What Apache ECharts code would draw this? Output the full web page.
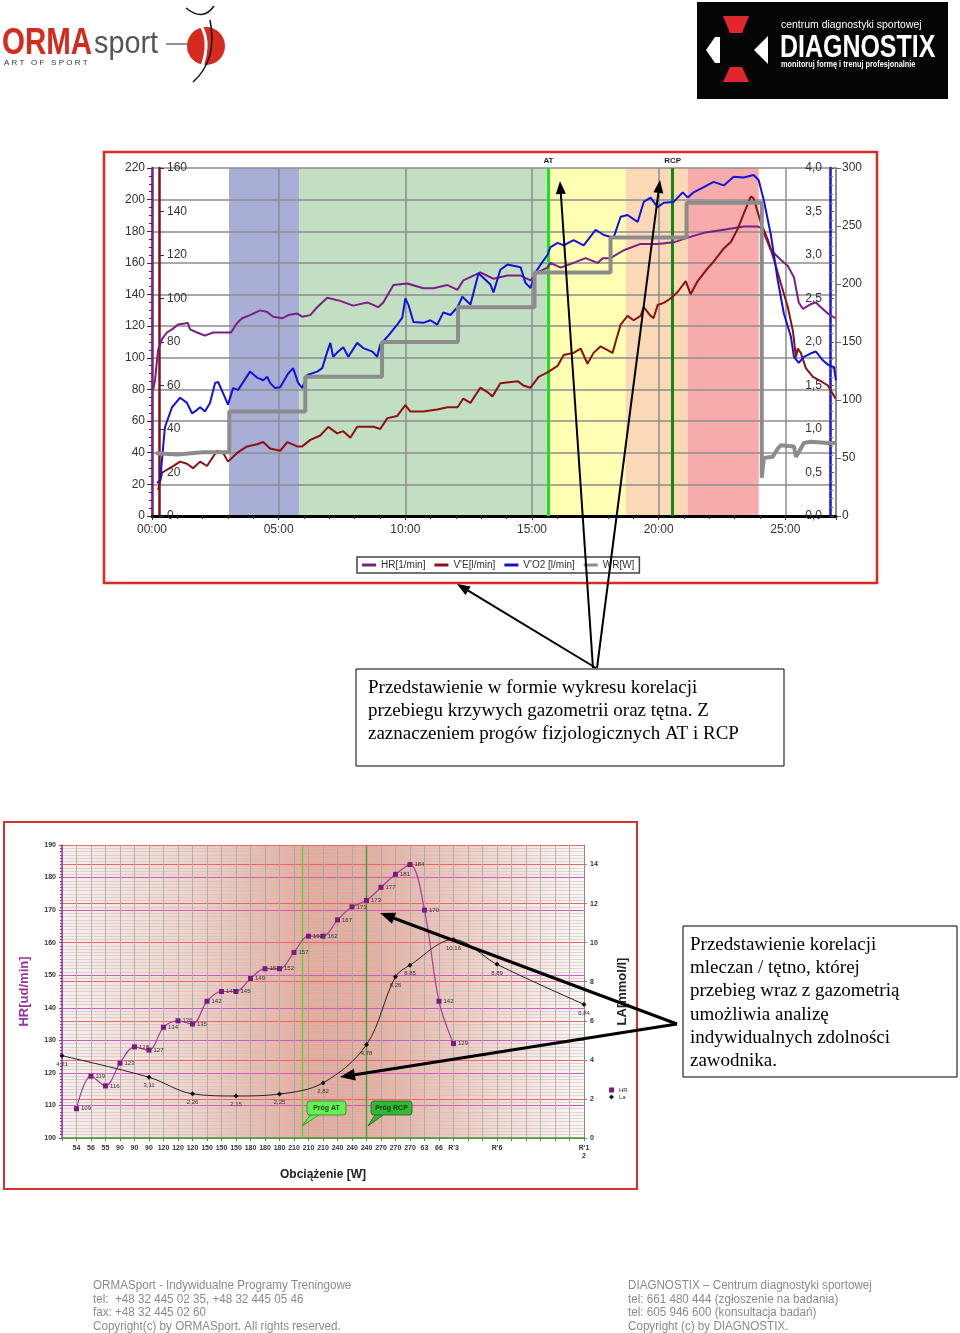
<!DOCTYPE html>
<html>
<head>
<meta charset="utf-8">
<script src="https://cdn.jsdelivr.net/npm/echarts@6/dist/echarts.min.js"></script>
<style>
html, body { margin: 0; padding: 0; background: #fff; }
#page { width: 960px; height: 1333px; }
</style>
</head>
<body>
<div id="page"></div>
<script>
// ---------- wykres 1: przebieg testu (czas w minutach) ----------
const hrTrace = [[0.05,80],[0.12,86],[0.24,105],[0.4,112],[0.59,116],[0.79,118],[1.03,121],[1.42,122],[1.5,118],[1.78,116],[2.09,114],[2.41,116],[2.96,116],[3.12,116],[3.36,122],[3.56,125],[3.87,127],[4.27,130],[4.55,129],[4.78,126],[5.14,125],[5.38,127],[5.73,128],[5.93,126],[6.25,127],[6.52,132],[6.92,138],[7.43,136],[7.94,133],[8.5,135],[8.93,132],[9.13,135],[9.53,146],[10.08,147],[10.71,144],[11.11,144],[11.66,146],[12.06,143],[12.29,149],[12.96,154],[13.48,150],[14.03,152],[14.55,152],[14.94,149],[15.22,154],[15.61,157],[15.73,160],[16.13,157],[16.64,160],[17.11,163],[17.59,160],[17.79,163],[18.1,163],[18.62,168],[19.29,172],[19.96,172],[20.59,173],[21.15,176],[21.78,179],[22.57,181],[23.36,183],[23.91,183],[24.07,182],[24.43,168],[24.82,162],[25.1,158],[25.34,151],[25.53,135],[25.69,131],[26.01,134],[26.21,135],[26.4,132],[26.68,128],[26.98,125]];
const veTrace = [[0.24,12],[0.4,20],[0.71,22],[1.11,25],[1.38,24],[1.62,22],[1.9,25],[2.17,23],[2.57,30],[2.81,29],[3.0,25],[3.36,29],[3.75,32],[4.15,33],[4.39,34],[4.66,31],[5.06,30],[5.34,34],[5.73,32],[5.93,32],[6.25,35],[6.64,37],[6.96,41],[7.31,38],[7.55,39],[7.83,36],[8.1,41],[8.74,41],[9.01,40],[9.29,45],[9.68,46],[10.0,51],[10.2,48],[10.71,48],[11.26,49],[11.66,50],[12.06,50],[12.29,54],[12.57,52],[12.96,59],[13.24,57],[13.44,55],[13.75,61],[14.43,62],[14.66,60],[14.94,59],[15.26,64],[15.61,66],[16.01,69],[16.25,74],[16.64,75],[16.92,77],[17.19,70],[17.43,75],[17.71,78],[18.18,75],[18.3,80],[18.5,88],[18.77,92],[19.01,90],[19.29,92],[19.41,96],[19.68,92],[19.8,91],[19.96,97],[20.2,98],[20.47,100],[20.75,103],[21.07,108],[21.26,102],[21.54,108],[21.94,114],[22.17,117],[22.57,123],[22.85,126],[23.12,132],[23.36,139],[23.64,147],[23.75,146],[24.03,135],[24.31,127],[24.55,118],[24.82,107],[25.1,96],[25.3,85],[25.42,73],[25.49,77],[25.61,75],[25.81,68],[26.09,64],[26.4,62],[26.68,60],[26.98,54]];
const vo2Trace = [[0.2,0.38],[0.32,0.41],[0.51,1.02],[0.79,1.25],[1.11,1.36],[1.38,1.3],[1.58,1.18],[1.78,1.22],[1.9,1.25],[2.09,1.2],[2.29,1.3],[2.49,1.53],[2.61,1.54],[2.81,1.41],[3.0,1.28],[3.2,1.47],[3.4,1.45],[3.87,1.66],[4.15,1.59],[4.39,1.56],[4.55,1.6],[4.66,1.53],[4.86,1.47],[5.06,1.48],[5.38,1.64],[5.57,1.7],[5.77,1.53],[5.93,1.47],[6.13,1.62],[6.52,1.66],[6.72,1.7],[6.92,1.89],[7.04,1.99],[7.15,1.83],[7.35,1.89],[7.55,1.94],[7.75,1.83],[8.1,1.99],[8.34,1.93],[8.7,1.89],[8.89,1.83],[9.01,1.97],[9.29,2.06],[9.68,2.2],[9.88,2.28],[10.0,2.5],[10.12,2.43],[10.32,2.23],[10.71,2.22],[10.99,2.25],[11.26,2.2],[11.5,2.34],[11.78,2.31],[12.06,2.4],[12.25,2.52],[12.57,2.43],[12.89,2.79],[13.36,2.66],[13.48,2.57],[13.75,2.83],[14.03,2.89],[14.55,2.86],[14.74,2.68],[14.94,2.62],[15.14,2.8],[15.34,2.89],[15.61,3.0],[15.73,3.09],[16.01,3.14],[16.25,3.11],[16.64,3.17],[17.04,3.11],[17.51,3.29],[17.83,3.23],[18.22,3.2],[18.5,3.44],[18.77,3.46],[19.17,3.38],[19.41,3.61],[19.68,3.66],[19.96,3.55],[20.2,3.6],[20.59,3.61],[20.95,3.72],[21.15,3.66],[21.38,3.72],[21.78,3.78],[22.17,3.84],[22.57,3.8],[22.96,3.9],[23.36,3.89],[23.75,3.92],[23.95,3.86],[24.15,3.63],[24.43,3.23],[24.7,2.71],[24.94,2.33],[25.22,2.06],[25.34,1.83],[25.53,1.76],[25.73,1.83],[26.01,1.87],[26.21,1.89],[26.48,1.79],[26.68,1.74],[26.92,1.71],[27.0,1.56]];
const wrTrace = [[0.15,54],[1.0,53],[2.0,55],[3.05,55],[3.05,90],[6.05,90],[6.05,120],[9.08,120],[9.08,150],[12.08,150],[12.08,180],[15.1,180],[15.1,210],[18.1,210],[18.1,240],[21.1,240],[21.1,270],[24.07,270],[24.07,33],[24.15,50],[24.5,51],[24.7,58],[24.82,61],[25.34,60],[25.42,51],[25.53,55],[25.73,63],[26.01,64],[26.68,63],[27.0,63]];
const zoneEdges = [3.04, 5.81, 15.65, 18.7, 21.15, 23.95];
const zoneColors = ['#a9aed6', '#c3dfc3', '#ffffb3', '#fcd9b6', '#f7abab'];
const atTime = 15.65;
const rcpTime = 20.55;
const timeLabels = ['00:00', '05:00', '10:00', '15:00', '20:00', '25:00'];

// ---------- wykres 2: HR / LA vs obciazenie ----------
const loadLabels = ['', '54', '56', '55', '90', '90', '90', '120', '120', '120', '150', '150', '150',
  '180', '180', '180', '210', '210', '210', '240', '240', '240', '270', '270', '270', '63', '66', "R'3",
  '', '', "R'6", '', '', '', '', '', "R'1\n2"];
const hrStage = [109, 119, 116, 123, 128, 127, 134, 136, 135, 142, 145, 145, 149, 152, 152, 157, 162, 162,
  167, 171, 173, 177, 181, 184, 170, 142, 129];
const laPos = [0, 6, 9, 12, 15, 18, 21, 23, 24, 27, 30, 36];
const laVals = [4.21, 3.11, 2.26, 2.15, 2.25, 2.82, 4.78, 8.26, 8.85, 10.16, 8.89, 6.84];
const atLoadPos = 16.55;
const rcpLoadPos = 21;

const FONT = "'Liberation Sans', Arial, sans-serif";
const SERIF = "'Liberation Serif', 'Times New Roman', serif";
const comma = (v, d) => v.toFixed(d).replace('.', ',');

function txt(x, y, s, font, fill, extra) {
  return Object.assign({ type: 'text', x: x, y: y, silent: true, z: 50,
    style: { text: s, font: font, fill: fill, align: 'left', verticalAlign: 'middle' } }, extra || {});
}
function arrow(x1, y1, x2, y2, w, hl, hw) {
  const dx = x2 - x1, dy = y2 - y1, L = Math.hypot(dx, dy), ux = dx / L, uy = dy / L;
  const bx = x2 - ux * hl, by = y2 - uy * hl;
  return [
    { type: 'line', z: 100, silent: true, shape: { x1: x1, y1: y1, x2: bx, y2: by }, style: { stroke: '#000', lineWidth: w } },
    { type: 'polygon', z: 100, silent: true, shape: { points: [[x2, y2], [bx - uy * hw, by + ux * hw], [bx + uy * hw, by - ux * hw]] }, style: { fill: '#000' } }
  ];
}

const zones = zoneColors.map((c, i) => [{ xAxis: zoneEdges[i], itemStyle: { color: c } }, { xAxis: zoneEdges[i + 1] }]);

const box1 = ['Przedstawienie w formie wykresu korelacji', 'przebiegu krzywych gazometrii oraz tętna. Z',
  'zaznaczeniem progów fizjologicznych AT i RCP'];
const box2 = ['Przedstawienie korelacji', 'mleczan / tętno, której', 'przebieg wraz z gazometrią',
  'umożliwia analizę', 'indywidualnych zdolności', 'zawodnika.'];
const footL = ['ORMASport - Indywidualne Programy Treningowe', 'tel:  +48 32 445 02 35, +48 32 445 05 46',
  'fax: +48 32 445 02 60', 'Copyright(c) by ORMASport. All rights reserved.'];
const footR = ['DIAGNOSTIX – Centrum diagnostyki sportowej', 'tel: 661 480 444 (zgłoszenie na badania)',
  'tel: 605 946 600 (konsultacja badań)', 'Copyright (c) by DIAGNOSTIX.'];

let graphics = [];
// ramki wykresow
graphics.push({ type: 'rect', z: 100, silent: true, shape: { x: 104, y: 152, width: 773, height: 431 }, style: { fill: null, stroke: '#e02626', lineWidth: 2.5 } });
graphics.push({ type: 'rect', z: 100, silent: true, shape: { x: 4, y: 822, width: 633, height: 367 }, style: { fill: null, stroke: '#d63030', lineWidth: 2 } });
// pola tekstowe
graphics.push({ type: 'rect', z: 60, silent: true, shape: { x: 356, y: 669, width: 428, height: 97 }, style: { fill: '#fff', stroke: '#000', lineWidth: 1 } });
box1.forEach((s, i) => graphics.push(txt(368, 688 + i * 23, s, '19px ' + SERIF, '#000', { z: 61 })));
graphics.push({ type: 'rect', z: 60, silent: true, shape: { x: 683, y: 926, width: 274, height: 151 }, style: { fill: '#fff', stroke: '#000', lineWidth: 1 } });
box2.forEach((s, i) => graphics.push(txt(690, 945 + i * 23.2, s, '19px ' + SERIF, '#000', { z: 61 })));
// strzalki
graphics = graphics.concat(arrow(596, 668, 457, 584, 2, 13, 5));
graphics = graphics.concat(arrow(593, 668, 560, 181, 2, 13, 5));
graphics = graphics.concat(arrow(597, 668, 660, 180, 2, 13, 5));
graphics = graphics.concat(arrow(677, 1024, 380, 913, 3, 15, 6));
graphics = graphics.concat(arrow(677, 1024, 340, 1077, 3, 15, 6));
// dymki progow
graphics.push({ type: 'polygon', z: 40, silent: true, shape: { points: [[312, 1113], [322, 1113], [302, 1126]] }, style: { fill: '#66ee55', stroke: '#2f7f2f', lineWidth: 0.8 } });
graphics.push({ type: 'rect', z: 41, silent: true, shape: { x: 307, y: 1101, width: 39, height: 14, r: 3 }, style: { fill: '#66ee55', stroke: '#2f7f2f', lineWidth: 0.8 } });
graphics.push(txt(326.5, 1108, 'Próg AT', 'bold 7px ' + FONT, '#1a4a1a', { z: 42, style: { text: 'Próg AT', font: 'bold 7px ' + FONT, fill: '#1a4a1a', align: 'center', verticalAlign: 'middle' } }));
graphics.push({ type: 'polygon', z: 40, silent: true, shape: { points: [[376, 1113], [386, 1113], [368, 1126]] }, style: { fill: '#33b833', stroke: '#1f5f1f', lineWidth: 0.8 } });
graphics.push({ type: 'rect', z: 41, silent: true, shape: { x: 371, y: 1101, width: 41, height: 14, r: 3 }, style: { fill: '#33b833', stroke: '#1f5f1f', lineWidth: 0.8 } });
graphics.push(txt(391.5, 1108, 'Próg RCP', 'bold 7px ' + FONT, '#0f3a0f', { z: 42, style: { text: 'Próg RCP', font: 'bold 7px ' + FONT, fill: '#0f3a0f', align: 'center', verticalAlign: 'middle' } }));
// logo ORMAsport
graphics.push(txt(2, 44, 'ORMA', 'bold 36px ' + FONT, '#d52b1e', { scaleX: 0.82 }));
graphics.push(txt(94, 44, 'sport', '31px ' + FONT, '#555', { scaleX: 0.93 }));
graphics.push(txt(4, 63, 'A R T   O F   S P O R T', '8px ' + FONT, '#333'));
graphics.push({ type: 'line', silent: true, shape: { x1: 166, y1: 44, x2: 202, y2: 44 }, style: { stroke: '#222', lineWidth: 1.2 } });
graphics.push({ type: 'circle', silent: true, shape: { cx: 206, cy: 46, r: 19 }, style: { fill: '#d52b1e' } });
graphics.push({ type: 'bezierCurve', silent: true, shape: { x1: 200, y1: 24, x2: 196, y2: 80, cpx1: 214, cpy1: 45 }, style: { stroke: '#fff', lineWidth: 3, fill: null } });
graphics.push({ type: 'bezierCurve', silent: true, shape: { x1: 186, y1: 8, x2: 214, y2: 6, cpx1: 203, cpy1: 22 }, style: { stroke: '#111', lineWidth: 1.5, fill: null } });
graphics.push({ type: 'bezierCurve', silent: true, shape: { x1: 210, y1: 20, x2: 193, y2: 82, cpx1: 218, cpy1: 60 }, style: { stroke: '#111', lineWidth: 1.5, fill: null } });
// logo DIAGNOSTIX
graphics.push({ type: 'rect', silent: true, shape: { x: 697, y: 2, width: 251, height: 97 }, style: { fill: '#050505' } });
graphics.push({ type: 'polygon', silent: true, shape: { points: [[723, 16], [749, 16], [742, 33], [730, 33]] }, style: { fill: '#e3262b' } });
graphics.push({ type: 'polygon', silent: true, shape: { points: [[730, 67], [742, 67], [749, 82], [723, 82]] }, style: { fill: '#e3262b' } });
graphics.push({ type: 'polygon', silent: true, shape: { points: [[706, 50], [715, 37], [720, 37], [720, 63], [715, 63]] }, style: { fill: '#fff' } });
graphics.push({ type: 'polygon', silent: true, shape: { points: [[754, 50], [768, 36], [768, 64]] }, style: { fill: '#fff' } });
graphics.push(txt(781, 25, 'centrum diagnostyki sportowej', '11px ' + FONT, '#fff', { scaleX: 0.95 }));
graphics.push(txt(780, 48, 'DIAGNOSTIX', 'bold 32px ' + FONT, '#fff', { scaleX: 0.78 }));
graphics.push(txt(781, 65, 'monitoruj formę i trenuj profesjonalnie', 'bold 8.5px ' + FONT, '#fff', { scaleX: 0.86 }));
// stopka
footL.forEach((s, i) => graphics.push(txt(93, 1286 + i * 13.5, s, '12px ' + FONT, '#8a8a8a', { scaleX: 0.97 })));
footR.forEach((s, i) => graphics.push(txt(628, 1286 + i * 13.5, s, '12px ' + FONT, '#8a8a8a', { scaleX: 0.97 })));

const option = {
  backgroundColor: '#fff',
  animation: false,
  textStyle: { fontFamily: FONT },
  grid: [
    { left: 152, top: 168, width: 684, height: 348 },
    { left: 62, top: 845, width: 522, height: 293 }
  ],
  legend: [
    {
      data: ['HR[1/min]', "V'E[l/min]", "V'O2 [l/min]", 'WR[W]'],
      left: 357, top: 557, icon: 'rect', itemWidth: 14, itemHeight: 3, itemGap: 9,
      padding: [3, 5], borderColor: '#444', borderWidth: 1.5, backgroundColor: '#fff',
      textStyle: { fontSize: 10, color: '#333', fontFamily: FONT }
    },
    {
      data: [{ name: 'HR', icon: 'rect' }, { name: 'La', icon: 'diamond' }],
      left: 604, top: 1082, orient: 'vertical', itemWidth: 5, itemHeight: 5, itemGap: 1,
      textStyle: { fontSize: 6, color: '#333', fontFamily: FONT }
    }
  ],
  xAxis: [
    {
      gridIndex: 0, type: 'value', min: 0, max: 27, interval: 5, z: 3,
      axisLine: { lineStyle: { color: '#000', width: 3 } },
      axisTick: { length: 4, lineStyle: { color: '#333' } },
      minorTick: { show: true, splitNumber: 5, length: 3, lineStyle: { color: '#333' } },
      axisLabel: { fontSize: 12, color: '#333', margin: 8, showMaxLabel: false,
        formatter: v => (v % 5 === 0 ? timeLabels[v / 5] || '' : '') },
      splitLine: { show: true, lineStyle: { color: '#8c8c8c', width: 1.5 } }
    },
    {
      gridIndex: 0, type: 'value', position: 'top', min: 0, max: 27, z: 0,
      axisLine: { show: true, lineStyle: { color: '#000', width: 2 } },
      axisTick: { show: false }, axisLabel: { show: false }, splitLine: { show: false }
    },
    {
      gridIndex: 1, type: 'value', min: 0, max: 36, interval: 1, z: 3,
      axisLine: { lineStyle: { color: '#3c9c3c', width: 1.5 } },
      axisTick: { length: 3, lineStyle: { color: '#3c9c3c' } },
      axisLabel: { fontSize: 7, fontWeight: 'bold', color: '#333', margin: 6, lineHeight: 8,
        formatter: v => loadLabels[v] || '' },
      splitLine: { show: true, lineStyle: { color: '#a4a4a4', width: 0.8 } },
      name: 'Obciążenie [W]', nameLocation: 'middle', nameGap: 31,
      nameTextStyle: { fontSize: 12, fontWeight: 'bold', color: '#222' }
    }
  ],
  yAxis: [
    {
      gridIndex: 0, type: 'value', min: 0, max: 220, interval: 20, position: 'left', z: 3,
      axisLine: { show: true, lineStyle: { color: '#7a1f84', width: 2.5 } },
      axisTick: { show: true, length: 5, lineStyle: { color: '#333' } },
      minorTick: { show: true, splitNumber: 4, length: 3, lineStyle: { color: '#333' } },
      axisLabel: { fontSize: 12, color: '#333', margin: 7 },
      splitLine: { lineStyle: { color: '#8c8c8c', width: 1.5 } }
    },
    {
      gridIndex: 0, type: 'value', min: 0, max: 160, interval: 20, position: 'left', offset: -7, z: 3,
      axisLine: { show: true, lineStyle: { color: '#8b1212', width: 2.5 } },
      axisTick: { show: true, inside: true, length: 5, lineStyle: { color: '#333' } },
      axisLabel: { inside: true, fontSize: 12, color: '#333', margin: 8 },
      splitLine: { show: false }
    },
    {
      gridIndex: 0, type: 'value', min: 0, max: 4, interval: 0.5, position: 'right', offset: -6, z: 3,
      axisLine: { show: true, lineStyle: { color: '#1212dc', width: 2.5 } },
      axisTick: { show: true, length: 4, lineStyle: { color: '#555' } },
      minorTick: { show: true, splitNumber: 5, length: 3, lineStyle: { color: '#777' } },
      axisLabel: { inside: true, fontSize: 12, color: '#333', margin: 8, formatter: v => comma(v, 1) },
      splitLine: { show: false }
    },
    {
      gridIndex: 0, type: 'value', min: 0, max: 300, interval: 50, position: 'right', z: 3,
      axisLine: { show: true, lineStyle: { color: '#8c8c8c', width: 2 } },
      axisTick: { show: true, length: 5, lineStyle: { color: '#666' } },
      axisLabel: { fontSize: 12, color: '#333', margin: 6 },
      splitLine: { show: false }
    },
    {
      gridIndex: 1, type: 'value', min: 100, max: 190, interval: 10, position: 'left', z: 3,
      axisLine: { show: true, lineStyle: { color: '#9b30a0', width: 1.5 } },
      axisTick: { show: true, length: 3, lineStyle: { color: '#9b30a0' } },
      minorTick: { show: true, splitNumber: 10, length: 2, lineStyle: { color: '#9b30a0' } },
      axisLabel: { fontSize: 7, fontWeight: 'bold', color: '#333', margin: 6 },
      splitLine: { lineStyle: { color: '#c462c4', width: 1 } },
      minorSplitLine: { show: true, lineStyle: { color: '#c2c2c2', width: 0.6 } },
      name: 'HR[ud/min]', nameLocation: 'middle', nameGap: 31, nameRotate: 90,
      nameTextStyle: { fontSize: 13, fontWeight: 'bold', color: '#9b30a0' }
    },
    {
      gridIndex: 1, type: 'value', min: 0, max: 15, interval: 2, position: 'right', z: 3,
      axisLine: { show: true, lineStyle: { color: '#888', width: 1 } },
      axisTick: { show: true, length: 3, lineStyle: { color: '#888' } },
      axisLabel: { fontSize: 7, fontWeight: 'bold', color: '#333', margin: 6, showMaxLabel: false },
      splitLine: { lineStyle: { color: '#e26a6a', width: 1 } },
      name: 'LA[mmol/l]', nameLocation: 'middle', nameGap: 32, nameRotate: 90,
      nameTextStyle: { fontSize: 13, fontWeight: 'bold', color: '#222' }
    }
  ],
  series: [
    {
      type: 'line', xAxisIndex: 0, yAxisIndex: 0, data: [], z: 1, silent: true,
      markArea: { silent: true, label: { show: false }, data: zones },
      markLine: {
        silent: true, symbol: 'none',
        data: [
          { xAxis: atTime, lineStyle: { color: '#22dd22', width: 3, type: 'solid' },
            label: { formatter: 'AT', position: 'end', fontSize: 8, fontWeight: 'bold', color: '#222', distance: 3 } },
          { xAxis: rcpTime, lineStyle: { color: '#118811', width: 3, type: 'solid' },
            label: { formatter: 'RCP', position: 'end', fontSize: 8, fontWeight: 'bold', color: '#222', distance: 3 } }
        ]
      }
    },
    { name: 'HR[1/min]', type: 'line', xAxisIndex: 0, yAxisIndex: 0, data: hrTrace, showSymbol: false, z: 5,
      lineStyle: { color: '#7a1f84', width: 2 }, itemStyle: { color: '#7a1f84' } },
    { name: "V'E[l/min]", type: 'line', xAxisIndex: 0, yAxisIndex: 1, data: veTrace, showSymbol: false, z: 5,
      lineStyle: { color: '#8b1212', width: 2 }, itemStyle: { color: '#8b1212' } },
    { name: "V'O2 [l/min]", type: 'line', xAxisIndex: 0, yAxisIndex: 2, data: vo2Trace, showSymbol: false, z: 5,
      lineStyle: { color: '#1212dc', width: 2 }, itemStyle: { color: '#1212dc' } },
    { name: 'WR[W]', type: 'line', xAxisIndex: 0, yAxisIndex: 3, data: wrTrace, showSymbol: false, z: 5,
      lineStyle: { color: '#8c8c8c', width: 4 }, itemStyle: { color: '#8c8c8c' } },
    {
      type: 'line', xAxisIndex: 2, yAxisIndex: 4, data: [], z: 1, silent: true,
      markArea: {
        silent: true, label: { show: false },
        data: [[{
          xAxis: 0,
          itemStyle: { color: { type: 'linear', x: 0, y: 0, x2: 1, y2: 0, colorStops: [
            { offset: 0, color: '#f9efed' }, { offset: 0.25, color: '#f1d2ca' }, { offset: 0.48, color: '#e6a897' },
            { offset: 0.6, color: '#e8ad9e' }, { offset: 0.8, color: '#f3d3cb' }, { offset: 1, color: '#fcf6f5' }] } }
        }, { xAxis: 36 }]]
      },
      markLine: {
        silent: true, symbol: 'none', label: { show: false },
        data: [
          { xAxis: atLoadPos, lineStyle: { color: '#66cc33', width: 1.3, type: 'solid' } },
          { xAxis: rcpLoadPos, lineStyle: { color: '#33a033', width: 1.3, type: 'solid' } }
        ]
      }
    },
    {
      name: 'HR', type: 'line', xAxisIndex: 2, yAxisIndex: 4, z: 5,
      data: hrStage.map((v, i) => [i + 1, v]), smooth: 0.35,
      symbol: 'rect', symbolSize: 5,
      lineStyle: { color: '#a040a0', width: 1.2 }, itemStyle: { color: '#7d1a7d' },
      label: { show: true, position: 'right', distance: 2, fontSize: 6, color: '#333', formatter: p => p.value[1] }
    },
    {
      name: 'La', type: 'line', xAxisIndex: 2, yAxisIndex: 5, z: 5,
      data: laPos.map((x, i) => [x, laVals[i]]), smooth: 0.35,
      symbol: 'diamond', symbolSize: 5,
      lineStyle: { color: '#222', width: 1 }, itemStyle: { color: '#111' },
      label: { show: true, position: 'bottom', distance: 3, fontSize: 6, color: '#333', formatter: p => comma(p.value[1], 2) }
    }
  ],
  graphic: { elements: graphics }
};

const chart = echarts.init(document.getElementById('page'));
chart.setOption(option);
window.addEventListener('resize', function () {
  chart.resize();
});
</script>
</body>
</html>
